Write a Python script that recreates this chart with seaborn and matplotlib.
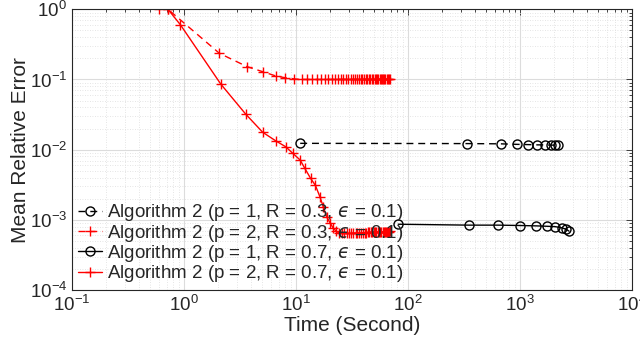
import numpy as np
import pandas as pd
import matplotlib
matplotlib.use("Agg")
import matplotlib.pyplot as plt
import seaborn as sns

# ---- data ----
t_p1_r03 = [10.9, 338, 671, 945, 1186, 1427, 1671, 1880, 2054, 2200]
e_p1_r03 = [0.0123, 0.0122, 0.0121, 0.0119, 0.0118, 0.0117, 0.0117, 0.0116, 0.0116, 0.0116]

t_p2_r03 = [0.60, 0.72, 2.07, 3.67, 5.05, 6.63, 7.98, 9.66, 11.2, 12.5,
            13.9, 15.3, 16.7, 18.1, 19.5, 20.9, 22.3, 23.7, 25.1, 26.5,
            27.9, 29.3, 30.7, 32.1, 33.5, 34.9, 36.3, 37.7, 39.1, 40.5,
            41.9, 43.3, 44.7, 46.1, 47.5, 48.9, 50.3, 51.7, 53.1, 54.5,
            55.9, 57.3, 58.7, 60.1, 61.5, 62.9, 64.3, 65.7, 67.1, 68.5]
e_p2_r03 = [1.0, 1.0, 0.236, 0.152, 0.129, 0.112, 0.106, 0.102, 0.100, 0.100,
            0.100, 0.100, 0.100, 0.100, 0.100, 0.100, 0.100, 0.100, 0.100, 0.100,
            0.100, 0.100, 0.100, 0.100, 0.100, 0.100, 0.100, 0.100, 0.100, 0.100,
            0.100, 0.100, 0.100, 0.100, 0.100, 0.100, 0.100, 0.100, 0.100, 0.100,
            0.100, 0.100, 0.100, 0.100, 0.100, 0.100, 0.100, 0.100, 0.100, 0.100]

t_p1_r07 = [81.9, 352, 640, 1000, 1390, 1730, 2054, 2357, 2574, 2740]
e_p1_r07 = [8.65e-4, 8.4e-4, 8.4e-4, 8.3e-4, 8.2e-4, 8.1e-4, 8.0e-4, 7.7e-4, 7.35e-4, 6.9e-4]

t_p2_r07 = [0.72, 0.93, 2.13, 3.56, 5.04, 6.57, 8.09, 9.34, 10.9, 12.0,
            13.5, 14.9, 16.4, 17.6, 18.8, 20.1, 21.4, 22.8, 24.2, 25.6,
            27.0, 28.4, 29.8, 31.2, 32.6, 34.0, 35.4, 36.8, 38.2, 39.6,
            41.0, 42.4, 43.8, 45.2, 46.6, 48.0, 49.4, 50.8, 52.2, 53.6,
            55.0, 56.4, 57.8, 59.2, 60.6, 62.0, 63.4, 64.8, 66.2, 67.6, 69.0]
e_p2_r07 = [1.0, 0.6, 0.086, 0.032, 0.0177, 0.0134, 0.0110, 0.0089, 0.0071, 0.0054,
            0.0039, 0.0031, 0.0021, 0.0015, 0.0011, 9.1e-4, 7.7e-4, 6.9e-4, 6.5e-4, 6.4e-4,
            6.4e-4, 6.4e-4, 6.4e-4, 6.45e-4, 6.45e-4, 6.5e-4, 6.5e-4, 6.5e-4, 6.5e-4, 6.55e-4,
            6.55e-4, 6.55e-4, 6.6e-4, 6.6e-4, 6.6e-4, 6.6e-4, 6.65e-4, 6.65e-4, 6.65e-4, 6.7e-4,
            6.7e-4, 6.7e-4, 6.7e-4, 6.75e-4, 6.75e-4, 6.75e-4, 6.8e-4, 6.8e-4, 6.8e-4, 6.8e-4, 6.85e-4]

labels = ["Algorithm 2 (p = 1, R = 0.3, $\u03f5$ = 0.1)",
          "Algorithm 2 (p = 2, R = 0.3, $\u03f5$ = 0.1)",
          "Algorithm 2 (p = 1, R = 0.7, $\u03f5$ = 0.1)",
          "Algorithm 2 (p = 2, R = 0.7, $\u03f5$ = 0.1)"]

series = [
    (t_p1_r03, e_p1_r03, "black", "o", (0, (5, 3.5))),
    (t_p2_r03, e_p2_r03, "red", "+", (0, (5, 3.5))),
    (t_p1_r07, e_p1_r07, "black", "o", "-"),
    (t_p2_r07, e_p2_r07, "red", "+", "-"),
]

sns.set_theme(style="white")
plt.rcParams["font.family"] = ["Liberation Sans", "DejaVu Sans"]
plt.rcParams["mathtext.fontset"] = "dejavusans"

fig = plt.figure(figsize=(6.4, 3.47), dpi=100)
ax = fig.add_axes([72 / 640, 1 - 290 / 347, 560 / 640, (290 - 9.3) / 347])

for (t, e, c, m, ls), lab in zip(series, labels):
    df = pd.DataFrame({"t": t, "e": e})
    mk = dict(markerfacecolor="none", markeredgecolor=c, markersize=6.5,
              markeredgewidth=1.0) if m == "o" else dict(markersize=7, markeredgewidth=1.0, markeredgecolor=c)
    sns.lineplot(data=df, x="t", y="e", ax=ax, color=c, marker=m, linestyle=ls,
                 linewidth=1.0, sort=False, label=lab, estimator=None, **mk)

ax.set_xscale("log")
ax.set_yscale("log")
ax.set_xlim(1e-1, 1e4)
ax.set_ylim(1e-4, 1e0)

ax.grid(True, which="major", color="#dcdcdc", linewidth=0.8, linestyle="-")
ax.grid(True, which="minor", color="#dcdcdc", linewidth=0.6, linestyle=(0, (1, 2)))
ax.set_axisbelow(True)

for s in ax.spines.values():
    s.set_color("#262626")
    s.set_linewidth(0.8)
    s.set_visible(True)

ax.tick_params(which="both", direction="in", top=True, right=True, colors="#262626",
               labelsize=13.5, width=0.6)
ax.tick_params(which="major", length=4)
ax.tick_params(which="minor", length=2.5)
ax.xaxis.set_minor_locator(matplotlib.ticker.LogLocator(base=10, subs=np.arange(2, 10), numticks=20))
ax.yaxis.set_minor_locator(matplotlib.ticker.LogLocator(base=10, subs=np.arange(2, 10), numticks=20))
ax.xaxis.set_minor_formatter(matplotlib.ticker.NullFormatter())
ax.yaxis.set_minor_formatter(matplotlib.ticker.NullFormatter())

ax.set_xlabel("Time (Second)", fontsize=15, color="#262626", labelpad=1)
ax.set_ylabel("Mean Relative Error", fontsize=15, color="#262626", labelpad=0)

leg = ax.legend(loc="lower left", bbox_to_anchor=(0.0, 0.0), frameon=False, fontsize=13.5,
                handlelength=1.3, handletextpad=0.25, labelspacing=-0.03, borderpad=0.1,
                borderaxespad=0.2)
for txt in leg.get_texts():
    txt.set_color("#262626")

fig.savefig("out.png", dpi=100)
